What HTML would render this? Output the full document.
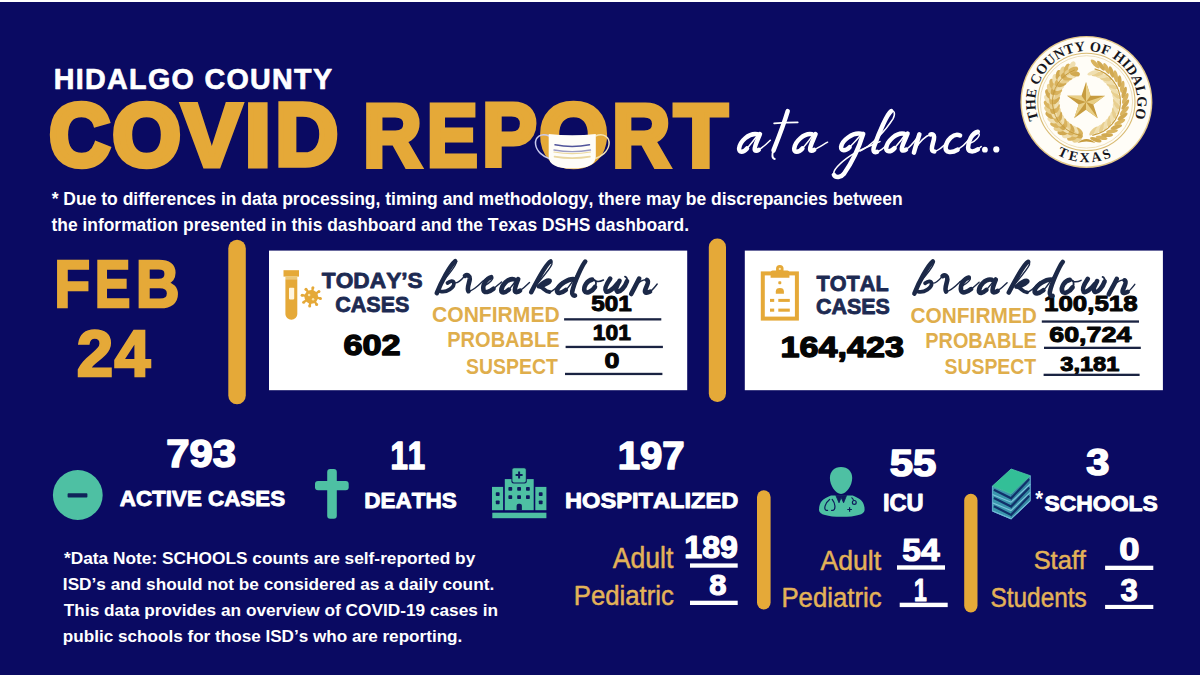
<!DOCTYPE html>
<html>
<head>
<meta charset="utf-8">
<title>Hidalgo County COVID Report</title>
<style>
html,body{margin:0;padding:0;}
body{width:1200px;height:675px;overflow:hidden;background:#0a0a62;font-family:"Liberation Sans",sans-serif;}
svg{display:block;}
text{font-kerning:none;white-space:pre;}
</style>
</head>
<body>
<svg width="1200" height="675" viewBox="0 0 1200 675">
<rect x="0" y="0" width="1200" height="2" fill="#ffffff"/>
<text transform="translate(53.71,88.95) scale(0.9439,1)" font-family='"Liberation Sans",sans-serif' font-weight="bold" font-style="normal" font-size="30.38" fill="#ffffff" stroke="#ffffff" stroke-width="0.7" stroke-linejoin="round" letter-spacing="1.4">HIDALGO COUNTY</text>
<text transform="translate(49.48,164.75) scale(0.9528,1)" font-family='"Liberation Sans",sans-serif' font-weight="bold" font-style="normal" font-size="87.50" fill="#e5a938" stroke="#e5a938" stroke-width="6.5" stroke-linejoin="miter" stroke-miterlimit="2.5">C</text>
<text transform="translate(112.86,164.75) scale(0.9956,1)" font-family='"Liberation Sans",sans-serif' font-weight="bold" font-style="normal" font-size="87.50" fill="#e5a938" stroke="#e5a938" stroke-width="6.5" stroke-linejoin="miter" stroke-miterlimit="2.5">O</text>
<text transform="translate(181.69,165.50) scale(1.0017,1)" font-family='"Liberation Sans",sans-serif' font-weight="bold" font-style="normal" font-size="89.68" fill="#e5a938" stroke="#e5a938" stroke-width="5" stroke-linejoin="miter" stroke-miterlimit="2.5">V</text>
<text transform="translate(244.19,165.50) scale(1.0883,1)" font-family='"Liberation Sans",sans-serif' font-weight="bold" font-style="normal" font-size="89.68" fill="#e5a938" stroke="#e5a938" stroke-width="5" stroke-linejoin="miter" stroke-miterlimit="2.5">I</text>
<text transform="translate(275.16,165.25) scale(0.9808,1)" font-family='"Liberation Sans",sans-serif' font-weight="bold" font-style="normal" font-size="88.96" fill="#e5a938" stroke="#e5a938" stroke-width="5.5" stroke-linejoin="miter" stroke-miterlimit="2.5">D</text>
<text transform="translate(362.92,165.50) scale(0.9075,1)" font-family='"Liberation Sans",sans-serif' font-weight="bold" font-style="normal" font-size="89.68" fill="#e5a938" stroke="#e5a938" stroke-width="5" stroke-linejoin="miter" stroke-miterlimit="2.5">R</text>
<text transform="translate(426.71,165.50) scale(0.8533,1)" font-family='"Liberation Sans",sans-serif' font-weight="bold" font-style="normal" font-size="89.68" fill="#e5a938" stroke="#e5a938" stroke-width="5" stroke-linejoin="miter" stroke-miterlimit="2.5">E</text>
<text transform="translate(481.89,165.50) scale(0.9183,1)" font-family='"Liberation Sans",sans-serif' font-weight="bold" font-style="normal" font-size="89.68" fill="#e5a938" stroke="#e5a938" stroke-width="5" stroke-linejoin="miter" stroke-miterlimit="2.5">P</text>
<text transform="translate(539.76,164.75) scale(0.9956,1)" font-family='"Liberation Sans",sans-serif' font-weight="bold" font-style="normal" font-size="87.50" fill="#e5a938" stroke="#e5a938" stroke-width="6.5" stroke-linejoin="miter" stroke-miterlimit="2.5">O</text>
<text transform="translate(612.04,165.50) scale(0.9027,1)" font-family='"Liberation Sans",sans-serif' font-weight="bold" font-style="normal" font-size="89.68" fill="#e5a938" stroke="#e5a938" stroke-width="5" stroke-linejoin="miter" stroke-miterlimit="2.5">R</text>
<text transform="translate(673.96,165.50) scale(0.9808,1)" font-family='"Liberation Sans",sans-serif' font-weight="bold" font-style="normal" font-size="89.68" fill="#e5a938" stroke="#e5a938" stroke-width="5" stroke-linejoin="miter" stroke-miterlimit="2.5">T</text>
<text transform="translate(51.65,204.80) scale(0.9795,1)" font-family='"Liberation Sans",sans-serif' font-weight="bold" font-style="normal" font-size="17.88" fill="#ffffff">* Due to differences in data processing, timing and methodology, there may be discrepancies between</text>
<text transform="translate(51.49,230.80) scale(0.9746,1)" font-family='"Liberation Sans",sans-serif' font-weight="bold" font-style="normal" font-size="17.88" fill="#ffffff">the information presented in this dashboard and the Texas DSHS dashboard.</text>
<text transform="translate(54.29,307.25) scale(0.8913,1)" font-family='"Liberation Sans",sans-serif' font-weight="bold" font-style="normal" font-size="65.84" fill="#e5a938" stroke="#e5a938" stroke-width="2.5" stroke-linejoin="miter" stroke-miterlimit="2.5">F</text>
<text transform="translate(94.84,307.25) scale(0.8113,1)" font-family='"Liberation Sans",sans-serif' font-weight="bold" font-style="normal" font-size="65.84" fill="#e5a938" stroke="#e5a938" stroke-width="2.5" stroke-linejoin="miter" stroke-miterlimit="2.5">E</text>
<text transform="translate(135.79,307.25) scale(0.9213,1)" font-family='"Liberation Sans",sans-serif' font-weight="bold" font-style="normal" font-size="65.84" fill="#e5a938" stroke="#e5a938" stroke-width="2.5" stroke-linejoin="miter" stroke-miterlimit="2.5">B</text>
<text transform="translate(76.79,375.55) scale(1.0023,1)" font-family='"Liberation Sans",sans-serif' font-weight="bold" font-style="normal" font-size="65.26" fill="#e5a938" stroke="#e5a938" stroke-width="2.5" stroke-linejoin="miter" stroke-miterlimit="2.5">2</text>
<text transform="translate(114.56,375.55) scale(0.9878,1)" font-family='"Liberation Sans",sans-serif' font-weight="bold" font-style="normal" font-size="65.26" fill="#e5a938" stroke="#e5a938" stroke-width="2.5" stroke-linejoin="miter" stroke-miterlimit="2.5">4</text>
<rect x="228.3" y="239.8" width="17.5" height="164.4" fill="#e5a938" rx="8.7"/>
<rect x="269" y="250.6" width="418.2" height="139.6" fill="#ffffff"/>
<rect x="708.8" y="238.5" width="17.2" height="163.5" fill="#e5a938" rx="8.5"/>
<rect x="744.8" y="250.6" width="418.1" height="139.6" fill="#ffffff"/>
<text transform="translate(321.85,287.90) scale(1.0144,1)" font-family='"Liberation Sans",sans-serif' font-weight="bold" font-style="normal" font-size="22.38" fill="#1d2a52" stroke="#1d2a52" stroke-width="0.8" stroke-linejoin="round">TODAY’S</text>
<text transform="translate(335.21,311.70) scale(0.9754,1)" font-family='"Liberation Sans",sans-serif' font-weight="bold" font-style="normal" font-size="22.09" fill="#1d2a52" stroke="#1d2a52" stroke-width="0.8" stroke-linejoin="round">CASES</text>
<text transform="translate(343.45,355.00) scale(1.1564,1)" font-family='"Liberation Sans",sans-serif' font-weight="bold" font-style="normal" font-size="29.65" fill="#050505" stroke="#050505" stroke-width="1.4" stroke-linejoin="round">602</text>
<text transform="translate(432.03,321.50) scale(0.9942,1)" font-family='"Liberation Sans",sans-serif' font-weight="bold" font-style="normal" font-size="21.22" fill="#dfae4c">CONFIRMED</text>
<text transform="translate(447.26,347.40) scale(0.9128,1)" font-family='"Liberation Sans",sans-serif' font-weight="bold" font-style="normal" font-size="21.95" fill="#dfae4c">PROBABLE</text>
<text transform="translate(466.04,373.70) scale(0.8872,1)" font-family='"Liberation Sans",sans-serif' font-weight="bold" font-style="normal" font-size="21.95" fill="#dfae4c">SUSPECT</text>
<text transform="translate(591.32,310.90) scale(1.1254,1)" font-family='"Liberation Sans",sans-serif' font-weight="bold" font-style="normal" font-size="21.51" fill="#050505" stroke="#050505" stroke-width="1.0" stroke-linejoin="round">501</text>
<text transform="translate(592.87,340.10) scale(1.0216,1)" font-family='"Liberation Sans",sans-serif' font-weight="bold" font-style="normal" font-size="22.38" fill="#050505" stroke="#050505" stroke-width="1.0" stroke-linejoin="round">101</text>
<text transform="translate(604.55,368.30) scale(1.2166,1)" font-family='"Liberation Sans",sans-serif' font-weight="bold" font-style="normal" font-size="22.09" fill="#050505" stroke="#050505" stroke-width="1.0" stroke-linejoin="round">0</text>
<rect x="564.1" y="318.2" width="97.2" height="2.3" fill="#1a2342"/>
<rect x="565.6" y="345.8" width="97.3" height="2.3" fill="#1a2342"/>
<rect x="565" y="372.8" width="97.4" height="2.3" fill="#1a2342"/>
<text transform="translate(816.55,290.50) scale(0.9733,1)" font-family='"Liberation Sans",sans-serif' font-weight="bold" font-style="normal" font-size="22.24" fill="#1d2a52" stroke="#1d2a52" stroke-width="0.8" stroke-linejoin="round">TOTAL</text>
<text transform="translate(815.90,313.90) scale(0.9528,1)" font-family='"Liberation Sans",sans-serif' font-weight="bold" font-style="normal" font-size="22.53" fill="#1d2a52" stroke="#1d2a52" stroke-width="0.8" stroke-linejoin="round">CASES</text>
<text transform="translate(780.54,357.20) scale(1.1346,1)" font-family='"Liberation Sans",sans-serif' font-weight="bold" font-style="normal" font-size="30.09" fill="#050505" stroke="#050505" stroke-width="1.4" stroke-linejoin="round">164,423</text>
<text transform="translate(910.44,322.60) scale(0.9585,1)" font-family='"Liberation Sans",sans-serif' font-weight="bold" font-style="normal" font-size="21.80" fill="#dfae4c">CONFIRMED</text>
<text transform="translate(925.27,348.10) scale(0.9184,1)" font-family='"Liberation Sans",sans-serif' font-weight="bold" font-style="normal" font-size="21.66" fill="#dfae4c">PROBABLE</text>
<text transform="translate(944.44,374.40) scale(0.8862,1)" font-family='"Liberation Sans",sans-serif' font-weight="bold" font-style="normal" font-size="21.95" fill="#dfae4c">SUSPECT</text>
<text transform="translate(1044.05,310.90) scale(1.1564,1)" font-family='"Liberation Sans",sans-serif' font-weight="bold" font-style="normal" font-size="22.38" fill="#050505" stroke="#050505" stroke-width="1.0" stroke-linejoin="round">100,518</text>
<text transform="translate(1049.25,341.70) scale(1.2558,1)" font-family='"Liberation Sans",sans-serif' font-weight="bold" font-style="normal" font-size="21.37" fill="#050505" stroke="#050505" stroke-width="1.0" stroke-linejoin="round">60,724</text>
<text transform="translate(1060.23,371.00) scale(1.1552,1)" font-family='"Liberation Sans",sans-serif' font-weight="bold" font-style="normal" font-size="20.49" fill="#050505" stroke="#050505" stroke-width="1.0" stroke-linejoin="round">3,181</text>
<rect x="1041.8" y="320.4" width="97.2" height="2.3" fill="#1a2342"/>
<rect x="1044" y="346.7" width="96.8" height="2.3" fill="#1a2342"/>
<rect x="1043.6" y="373.7" width="96" height="2.3" fill="#1a2342"/>
<text transform="translate(166.15,466.50) scale(1.0584,1)" font-family='"Liberation Sans",sans-serif' font-weight="bold" font-style="normal" font-size="39.54" fill="#ffffff" stroke="#ffffff" stroke-width="1.6" stroke-linejoin="round">793</text>
<circle cx="77.8" cy="495" r="24.9" fill="#4ec0a3"/>
<rect x="67.6" y="493.3" width="19.8" height="4.3" fill="#10235a" rx="0.8"/>
<text transform="translate(119.80,506.05) scale(1.0066,1)" font-family='"Liberation Sans",sans-serif' font-weight="bold" font-style="normal" font-size="22.24" fill="#ffffff" stroke="#ffffff" stroke-width="0.9" stroke-linejoin="round">ACTIVE CASES</text>
<rect x="327.2" y="469" width="9.6" height="49.8" fill="#4ec0a3" rx="3"/>
<rect x="315" y="480.9" width="33.7" height="9.4" fill="#4ec0a3" rx="3"/>
<text transform="translate(390.47,469.20) scale(0.7884,1)" font-family='"Liberation Sans",sans-serif' font-weight="bold" font-style="normal" font-size="39.54" fill="#ffffff" stroke="#ffffff" stroke-width="1.6" stroke-linejoin="round">11</text>
<text transform="translate(364.24,508.25) scale(0.9870,1)" font-family='"Liberation Sans",sans-serif' font-weight="bold" font-style="normal" font-size="22.82" fill="#ffffff" stroke="#ffffff" stroke-width="0.9" stroke-linejoin="round">DEATHS</text>
<text transform="translate(617.72,469.20) scale(1.0530,1)" font-family='"Liberation Sans",sans-serif' font-weight="bold" font-style="normal" font-size="38.08" fill="#ffffff" stroke="#ffffff" stroke-width="1.6" stroke-linejoin="round">197</text>
<text transform="translate(564.99,508.45) scale(1.0571,1)" font-family='"Liberation Sans",sans-serif' font-weight="bold" font-style="normal" font-size="22.38" fill="#ffffff" stroke="#ffffff" stroke-width="0.9" stroke-linejoin="round">HOSPITALIZED</text>
<text transform="translate(612.78,567.95) scale(0.9282,1)" font-family='"Liberation Sans",sans-serif' font-weight="normal" font-style="normal" font-size="28.63" fill="#e3b258" stroke="#e3b258" stroke-width="0.5" stroke-linejoin="round">Adult</text>
<text transform="translate(573.73,604.95) scale(0.9467,1)" font-family='"Liberation Sans",sans-serif' font-weight="normal" font-style="normal" font-size="27.18" fill="#e3b258" stroke="#e3b258" stroke-width="0.5" stroke-linejoin="round">Pediatric</text>
<text transform="translate(684.30,557.60) scale(1.0323,1)" font-family='"Liberation Sans",sans-serif' font-weight="bold" font-style="normal" font-size="31.11" fill="#ffffff" stroke="#ffffff" stroke-width="1.2" stroke-linejoin="round">189</text>
<text transform="translate(709.33,595.40) scale(1.0233,1)" font-family='"Liberation Sans",sans-serif' font-weight="bold" font-style="normal" font-size="30.23" fill="#ffffff" stroke="#ffffff" stroke-width="1.2" stroke-linejoin="round">8</text>
<rect x="690" y="563.4" width="47.7" height="4.3" fill="#ffffff"/>
<rect x="690" y="600.7" width="47.7" height="4.3" fill="#ffffff"/>
<rect x="757" y="490.2" width="13.6" height="119.2" fill="#e5a938" rx="6.8"/>
<text transform="translate(889.70,476.10) scale(1.1081,1)" font-family='"Liberation Sans",sans-serif' font-weight="bold" font-style="normal" font-size="37.79" fill="#ffffff" stroke="#ffffff" stroke-width="1.6" stroke-linejoin="round">55</text>
<text transform="translate(882.98,511.15) scale(1.0164,1)" font-family='"Liberation Sans",sans-serif' font-weight="bold" font-style="normal" font-size="23.26" fill="#ffffff" stroke="#ffffff" stroke-width="0.9" stroke-linejoin="round">ICU</text>
<text transform="translate(820.59,570.05) scale(0.9723,1)" font-family='"Liberation Sans",sans-serif' font-weight="normal" font-style="normal" font-size="27.33" fill="#e3b258" stroke="#e3b258" stroke-width="0.5" stroke-linejoin="round">Adult</text>
<text transform="translate(781.42,607.05) scale(0.9427,1)" font-family='"Liberation Sans",sans-serif' font-weight="normal" font-style="normal" font-size="27.33" fill="#e3b258" stroke="#e3b258" stroke-width="0.5" stroke-linejoin="round">Pediatric</text>
<text transform="translate(902.32,560.90) scale(1.0786,1)" font-family='"Liberation Sans",sans-serif' font-weight="bold" font-style="normal" font-size="31.11" fill="#ffffff" stroke="#ffffff" stroke-width="1.2" stroke-linejoin="round">54</text>
<text transform="translate(914.00,600.50) scale(0.7337,1)" font-family='"Liberation Sans",sans-serif' font-weight="bold" font-style="normal" font-size="31.11" fill="#ffffff" stroke="#ffffff" stroke-width="1.2" stroke-linejoin="round">1</text>
<rect x="897" y="565.3" width="48" height="4.4" fill="#ffffff"/>
<rect x="899.7" y="602.7" width="48" height="4.4" fill="#ffffff"/>
<rect x="964.2" y="493.8" width="13.3" height="118.6" fill="#e5a938" rx="6.6"/>
<text transform="translate(1086.14,475.20) scale(1.1156,1)" font-family='"Liberation Sans",sans-serif' font-weight="bold" font-style="normal" font-size="37.36" fill="#ffffff" stroke="#ffffff" stroke-width="1.6" stroke-linejoin="round">3</text>
<text transform="translate(1044.50,510.55) scale(1.0239,1)" font-family='"Liberation Sans",sans-serif' font-weight="bold" font-style="normal" font-size="22.38" fill="#ffffff" stroke="#ffffff" stroke-width="0.9" stroke-linejoin="round">SCHOOLS</text>
<text transform="translate(1035.24,506.00) scale(0.9399,1)" font-family='"Liberation Sans",sans-serif' font-weight="bold" font-style="normal" font-size="21.26" fill="#ffffff">*</text>
<text transform="translate(1033.69,569.45) scale(0.9601,1)" font-family='"Liberation Sans",sans-serif' font-weight="normal" font-style="normal" font-size="26.45" fill="#e3b258" stroke="#e3b258" stroke-width="0.5" stroke-linejoin="round">Staff</text>
<text transform="translate(990.41,607.05) scale(0.8941,1)" font-family='"Liberation Sans",sans-serif' font-weight="normal" font-style="normal" font-size="27.33" fill="#e3b258" stroke="#e3b258" stroke-width="0.5" stroke-linejoin="round">Students</text>
<text transform="translate(1119.24,559.70) scale(1.1397,1)" font-family='"Liberation Sans",sans-serif' font-weight="bold" font-style="normal" font-size="31.98" fill="#ffffff" stroke="#ffffff" stroke-width="1.2" stroke-linejoin="round">0</text>
<text transform="translate(1120.58,600.70) scale(0.9835,1)" font-family='"Liberation Sans",sans-serif' font-weight="bold" font-style="normal" font-size="31.54" fill="#ffffff" stroke="#ffffff" stroke-width="1.2" stroke-linejoin="round">3</text>
<rect x="1105.1" y="565.7" width="48.2" height="4.3" fill="#ffffff"/>
<rect x="1105.1" y="604.9" width="48.2" height="4.1" fill="#ffffff"/>
<text transform="translate(63.95,564.30) scale(1.0538,1)" font-family='"Liberation Sans",sans-serif' font-weight="bold" font-style="normal" font-size="16.42" fill="#ffffff">*Data Note: SCHOOLS counts are self-reported by</text>
<text transform="translate(62.85,590.00) scale(1.0492,1)" font-family='"Liberation Sans",sans-serif' font-weight="bold" font-style="normal" font-size="16.42" fill="#ffffff">ISD’s and should not be considered as a daily count.</text>
<text transform="translate(63.81,616.00) scale(1.0517,1)" font-family='"Liberation Sans",sans-serif' font-weight="bold" font-style="normal" font-size="16.42" fill="#ffffff">This data provides an overview of COVID-19 cases in</text>
<text transform="translate(62.87,641.70) scale(1.0433,1)" font-family='"Liberation Sans",sans-serif' font-weight="bold" font-style="normal" font-size="16.42" fill="#ffffff">public schools for those ISD’s who are reporting.</text>
<rect x="283.5" y="270.2" width="15.5" height="6.4" fill="#e5a938"/>
<rect x="285.4" y="276.6" width="11.9" height="2.6" fill="#ecc878"/>
<path d="M285.4 279.2 H297.3 V313.9 A5.95 5.95 0 0 1 285.4 313.9 Z" fill="#e5a938"/>
<rect x="289" y="287.8" width="5.2" height="11.6" fill="#fff6e0" rx="0.8"/>
<g fill="#e5a938" stroke="#e5a938">
<line x1="316.22" y1="297.67" x2="320.46" y2="298.41" stroke-width="2.3"/>
<circle cx="320.46" cy="298.41" r="1.5" stroke="none"/>
<line x1="314.17" y1="300.90" x2="316.63" y2="304.42" stroke-width="2.3"/>
<circle cx="316.63" cy="304.42" r="1.5" stroke="none"/>
<line x1="310.43" y1="301.72" x2="309.69" y2="305.96" stroke-width="2.3"/>
<circle cx="309.69" cy="305.96" r="1.5" stroke="none"/>
<line x1="307.20" y1="299.67" x2="303.68" y2="302.13" stroke-width="2.3"/>
<circle cx="303.68" cy="302.13" r="1.5" stroke="none"/>
<line x1="306.38" y1="295.93" x2="302.14" y2="295.19" stroke-width="2.3"/>
<circle cx="302.14" cy="295.19" r="1.5" stroke="none"/>
<line x1="308.43" y1="292.70" x2="305.97" y2="289.18" stroke-width="2.3"/>
<circle cx="305.97" cy="289.18" r="1.5" stroke="none"/>
<line x1="312.17" y1="291.88" x2="312.91" y2="287.64" stroke-width="2.3"/>
<circle cx="312.91" cy="287.64" r="1.5" stroke="none"/>
<line x1="315.40" y1="293.93" x2="318.92" y2="291.47" stroke-width="2.3"/>
<circle cx="318.92" cy="291.47" r="1.5" stroke="none"/>
<circle cx="311.3" cy="296.8" r="6.9" stroke="none"/>
</g>
<circle cx="309.1" cy="295.0" r="1.3" fill="#fbe3a6"/>
<circle cx="313.1" cy="299.2" r="1.2" fill="#fbe3a6"/>
<rect x="762.8" y="273.4" width="34.1" height="45.2" fill="none" stroke="#e5a938" stroke-width="4"/>
<path d="M770.6 277.8 V272.4 Q770.6 270.4 772.6 270.4 H776.2 A3.9 3.9 0 0 1 783.4 270.4 H787.4 Q789.4 270.4 789.4 272.4 V277.8 Z" fill="#e5a938"/>
<circle cx="779.8" cy="268.9" r="3.8" fill="#e5a938"/>
<circle cx="779.8" cy="268.9" r="1.1" fill="#fbe9bd"/>
<rect x="778.3" y="281.2" width="3" height="3" rx="0.9" fill="#e5a938"/>
<path d="M775.8 293.7 V291.5 A4.05 3.4 0 0 1 783.9 291.5 V293.7 Z" fill="#e5a938"/>
<rect x="770" y="298.9" width="4.2" height="3" fill="#e5a938"/>
<rect x="778.3" y="298.9" width="11.5" height="3" fill="#e5a938"/>
<rect x="770" y="308.6" width="4.2" height="3.1" fill="#e5a938"/>
<rect x="778.3" y="308.6" width="11.5" height="3.1" fill="#e5a938"/>
<rect x="504.8" y="479.1" width="28.9" height="31.1" fill="#4ec0a3"/>
<rect x="492" y="486.9" width="11.1" height="23.3" fill="#4ec0a3"/>
<rect x="535.3" y="486.9" width="11.1" height="23.3" fill="#4ec0a3"/>
<rect x="492.3" y="512.7" width="54.1" height="5.5" fill="#4ec0a3"/>
<rect x="511.4" y="467.4" width="15.4" height="16" rx="2.2" fill="#0e1a5c"/>
<rect x="512.4" y="468.2" width="13.4" height="14.2" rx="1.6" fill="#4ec0a3"/>
<rect x="515.6" y="474.0" width="7.0" height="2.0" fill="#0e1a5c"/>
<rect x="518.1" y="471.5" width="2.0" height="7.0" fill="#0e1a5c"/>
<rect x="508.40000000000003" y="487.0" width="3.8" height="3.8" fill="#0e1a5c" rx="0.8"/>
<rect x="508.40000000000003" y="495.20000000000005" width="3.8" height="3.8" fill="#0e1a5c" rx="0.8"/>
<rect x="517.2" y="487.0" width="3.8" height="3.8" fill="#0e1a5c" rx="0.8"/>
<rect x="517.2" y="495.20000000000005" width="3.8" height="3.8" fill="#0e1a5c" rx="0.8"/>
<rect x="526.0" y="487.0" width="3.8" height="3.8" fill="#0e1a5c" rx="0.8"/>
<rect x="526.0" y="495.20000000000005" width="3.8" height="3.8" fill="#0e1a5c" rx="0.8"/>
<rect x="495.8" y="492.3" width="3.8" height="3.8" fill="#0e1a5c" rx="0.8"/>
<rect x="495.8" y="500.5" width="3.8" height="3.8" fill="#0e1a5c" rx="0.8"/>
<rect x="538.8000000000001" y="492.3" width="3.8" height="3.8" fill="#0e1a5c" rx="0.8"/>
<rect x="538.8000000000001" y="500.5" width="3.8" height="3.8" fill="#0e1a5c" rx="0.8"/>
<path d="M516.6 510.2 V505.8 A2 2 0 0 1 518.6 503.8 H519.9 A2 2 0 0 1 521.9 505.8 V510.2 Z" fill="#0e1a5c"/>
<path d="M819 510 C819 502 823 498.6 831 495.6 H852.7 C860.5 498.6 864.6 502 864.6 510 C864.6 514.6 856 516.8 841.8 516.8 C827.5 516.8 819 514.6 819 510 Z" fill="#4ec0a3"/>
<path d="M841 466.9 C847.8 466.9 852.2 471.5 852.2 478 C852.2 485.5 846.5 493.9 841 493.9 C835.5 493.9 829.9 485.5 829.9 478 C829.9 471.5 834.2 466.9 841 466.9 Z" fill="#4ec0a3" stroke="#0a0a62" stroke-width="1.6" paint-order="stroke"/>
<path d="M835.8 495.4 L839 502.8 L841.2 497.6 L843.6 502.8 L846.6 495.4 Z" fill="#0e1a5c" stroke="#0e1a5c" stroke-width="0.8" stroke-linejoin="round"/>
<path d="M829.6 499.4 C824.8 503 823.6 509.4 826.2 510.4 H827.6 M832.2 499.4 C835.6 503.5 835.8 509.4 833 510.4 H831.6" fill="none" stroke="#0e1a5c" stroke-width="1.2" stroke-linecap="round"/>
<circle cx="854.3" cy="502.4" r="1.9" fill="none" stroke="#0e1a5c" stroke-width="1.2"/>
<path d="M851.5 497.5 Q853 498.5 853.6 500.5" fill="none" stroke="#0e1a5c" stroke-width="1.1"/>
<path d="M849.6 507.2 V511.8 M847.3 509.5 H851.9" stroke="#0e1a5c" stroke-width="1.2" fill="none"/>
<polygon points="992.4,486.1 1011.1,493.9 1011.1,518.8 992.4,511.0" fill="#3b97ad"/>
<polygon points="1011.1,493.9 1030.3,475.7 1030.3,500.6 1011.1,518.8" fill="#3589a3"/>
<polyline points="993.9,489.7 1011.1,498.3 1029.3,479.1" fill="none" stroke="#10306a" stroke-width="2.2"/>
<polyline points="992.4,494.4 1011.1,502.2 1030.3,484.0" fill="none" stroke="#7fc6de" stroke-width="1.1"/>
<polyline points="993.9,498.0 1011.1,506.6 1029.3,487.4" fill="none" stroke="#10306a" stroke-width="2.2"/>
<polyline points="992.4,502.7 1011.1,510.5 1030.3,492.3" fill="none" stroke="#7fc6de" stroke-width="1.1"/>
<polyline points="993.9,506.3 1011.1,514.9 1029.3,495.7" fill="none" stroke="#10306a" stroke-width="2.2"/>
<polyline points="992.4,511.0 1011.1,518.8 1030.3,500.6" fill="none" stroke="#7fc6de" stroke-width="1.1"/>
<polygon points="992.4,486.1 1011.1,493.9 1030.3,475.7 1011.1,469.0" fill="#33bf97" stroke="#52c9a8" stroke-width="0.8" stroke-linejoin="round"/>
<polyline points="992.4,486.1 992.4,511.0 1011.1,518.8 1030.3,500.6 1030.3,475.7" fill="none" stroke="#6bb8d6" stroke-width="0.9" stroke-linejoin="round"/>
<path d="M549.2 136 C541 132.5 534.6 137 535.6 144.5 C536.6 151.5 543 156.5 549.2 158.5" fill="none" stroke="#c9caee" stroke-width="1.5"/>
<path d="M595.4 136 C603.5 132.5 610 137 609 144.5 C608 151.5 601.5 156.5 595.4 158.5" fill="none" stroke="#f3e2b4" stroke-width="1.5"/>
<path d="M548.7 134 Q572.2 136.6 595.8 134 L595.8 156.5 Q595.8 168.6 572.2 168.6 Q548.7 168.6 548.7 156.5 Z" fill="#fefdf8"/>
<path d="M555 144.8 Q572 148.2 589.5 144.8" fill="none" stroke="#50549a" stroke-width="1.5" stroke-linecap="round"/>
<path d="M554 150 Q572 153.2 590.5 150" fill="none" stroke="#9c9cc4" stroke-width="1.4" stroke-linecap="round"/>
<path d="M554 152 Q572 155.2 590.5 152" fill="none" stroke="#ecd9a0" stroke-width="1.2" stroke-linecap="round"/>
<path d="M554.5 156.6 Q572 159.6 590 156.6" fill="none" stroke="#ead7a0" stroke-width="1.6" stroke-linecap="round"/>
<circle cx="1086.4" cy="101.9" r="66" fill="#e4c98a"/>
<circle cx="1086.4" cy="101.9" r="64.6" fill="#fffdf7"/>
<circle cx="1086.4" cy="101.9" r="48.6" fill="none" stroke="#d9bb73" stroke-width="1.1"/>
<circle cx="1086.4" cy="101.9" r="46.2" fill="none" stroke="#e7d3a0" stroke-width="0.7"/>
<path id="sealTop" d="M1038.57 119.31 A50.9 50.9 0 1 1 1134.81 117.63" fill="none"/>
<text font-family='"Liberation Serif",serif' font-weight="bold" font-size="14.2" fill="#16161c"><textPath href="#sealTop" textLength="193.7" lengthAdjust="spacing">THE COUNTY OF HIDALGO</textPath></text>
<path id="sealBot" d="M1057.12 154.73 A60.4 60.4 0 0 0 1111.45 156.86" fill="none"/>
<text font-family='"Liberation Serif",serif' font-weight="bold" font-size="13.8" fill="#16161c"><textPath href="#sealBot" textLength="56.4" lengthAdjust="spacing">TEXAS</textPath></text>
<polygon points="1086.0,82.0 1090.5,95.8 1105.0,95.8 1093.3,104.4 1097.8,118.2 1086.0,109.7 1074.2,118.2 1078.7,104.4 1067.0,95.8 1081.5,95.8" fill="#c79c3f"/>
<polygon points="1086.0,82.0 1090.5,95.8 1086.0,102.0" fill="#e9cf86"/>
<polygon points="1105.0,95.8 1093.3,104.4 1086.0,102.0" fill="#e9cf86"/>
<polygon points="1097.8,118.2 1086.0,109.7 1086.0,102.0" fill="#e9cf86"/>
<polygon points="1074.2,118.2 1078.7,104.4 1086.0,102.0" fill="#e9cf86"/>
<polygon points="1067.0,95.8 1081.5,95.8 1086.0,102.0" fill="#e9cf86"/>
<ellipse cx="1079.0" cy="131.5" rx="5.0" ry="2.7" transform="rotate(229 1079.0 131.5)" fill="#d9b35e"/>
<ellipse cx="1077.0" cy="139.5" rx="5.0" ry="2.7" transform="rotate(159 1077.0 139.5)" fill="#e8cf8f"/>
<ellipse cx="1078.0" cy="135.5" rx="5.0" ry="2.7" transform="rotate(194 1078.0 135.5)" fill="#d1a951"/>
<ellipse cx="1075.0" cy="130.2" rx="5.0" ry="2.7" transform="rotate(237 1075.0 130.2)" fill="#f0dfb0"/>
<ellipse cx="1071.9" cy="137.9" rx="5.0" ry="2.7" transform="rotate(167 1071.9 137.9)" fill="#d9b35e"/>
<ellipse cx="1073.4" cy="134.0" rx="5.0" ry="2.7" transform="rotate(202 1073.4 134.0)" fill="#e8cf8f"/>
<ellipse cx="1071.2" cy="128.3" rx="5.0" ry="2.7" transform="rotate(245 1071.2 128.3)" fill="#d1a951"/>
<ellipse cx="1067.0" cy="135.5" rx="5.0" ry="2.7" transform="rotate(175 1067.0 135.5)" fill="#f0dfb0"/>
<ellipse cx="1069.1" cy="131.9" rx="5.0" ry="2.7" transform="rotate(210 1069.1 131.9)" fill="#d9b35e"/>
<ellipse cx="1067.6" cy="125.9" rx="5.0" ry="2.7" transform="rotate(253 1067.6 125.9)" fill="#e8cf8f"/>
<ellipse cx="1062.5" cy="132.5" rx="5.0" ry="2.7" transform="rotate(183 1062.5 132.5)" fill="#d1a951"/>
<ellipse cx="1065.1" cy="129.2" rx="5.0" ry="2.7" transform="rotate(218 1065.1 129.2)" fill="#f0dfb0"/>
<ellipse cx="1064.5" cy="123.1" rx="5.0" ry="2.7" transform="rotate(261 1064.5 123.1)" fill="#d9b35e"/>
<ellipse cx="1058.5" cy="128.9" rx="5.0" ry="2.7" transform="rotate(191 1058.5 128.9)" fill="#e8cf8f"/>
<ellipse cx="1061.5" cy="125.9" rx="5.0" ry="2.7" transform="rotate(226 1061.5 125.9)" fill="#d1a951"/>
<ellipse cx="1061.7" cy="119.8" rx="5.0" ry="2.7" transform="rotate(269 1061.7 119.8)" fill="#f0dfb0"/>
<ellipse cx="1055.0" cy="124.7" rx="5.0" ry="2.7" transform="rotate(199 1055.0 124.7)" fill="#d9b35e"/>
<ellipse cx="1058.4" cy="122.2" rx="5.0" ry="2.7" transform="rotate(234 1058.4 122.2)" fill="#e8cf8f"/>
<ellipse cx="1059.5" cy="116.2" rx="5.0" ry="2.7" transform="rotate(277 1059.5 116.2)" fill="#d1a951"/>
<ellipse cx="1052.1" cy="120.1" rx="5.0" ry="2.7" transform="rotate(207 1052.1 120.1)" fill="#f0dfb0"/>
<ellipse cx="1055.9" cy="118.1" rx="5.0" ry="2.7" transform="rotate(242 1055.9 118.1)" fill="#d9b35e"/>
<ellipse cx="1057.7" cy="112.3" rx="5.0" ry="2.7" transform="rotate(285 1057.7 112.3)" fill="#e8cf8f"/>
<ellipse cx="1049.9" cy="115.2" rx="5.0" ry="2.7" transform="rotate(215 1049.9 115.2)" fill="#d1a951"/>
<ellipse cx="1053.9" cy="113.7" rx="5.0" ry="2.7" transform="rotate(250 1053.9 113.7)" fill="#f0dfb0"/>
<ellipse cx="1056.6" cy="108.2" rx="5.0" ry="2.7" transform="rotate(293 1056.6 108.2)" fill="#d9b35e"/>
<ellipse cx="1048.4" cy="110.0" rx="5.0" ry="2.7" transform="rotate(223 1048.4 110.0)" fill="#e8cf8f"/>
<ellipse cx="1052.6" cy="109.1" rx="5.0" ry="2.7" transform="rotate(258 1052.6 109.1)" fill="#d1a951"/>
<ellipse cx="1056.0" cy="104.0" rx="5.0" ry="2.7" transform="rotate(301 1056.0 104.0)" fill="#f0dfb0"/>
<ellipse cx="1047.7" cy="104.6" rx="5.0" ry="2.7" transform="rotate(231 1047.7 104.6)" fill="#d9b35e"/>
<ellipse cx="1051.9" cy="104.3" rx="5.0" ry="2.7" transform="rotate(266 1051.9 104.3)" fill="#e8cf8f"/>
<ellipse cx="1056.0" cy="99.8" rx="5.0" ry="2.7" transform="rotate(309 1056.0 99.8)" fill="#d1a951"/>
<ellipse cx="1047.7" cy="99.2" rx="5.0" ry="2.7" transform="rotate(239 1047.7 99.2)" fill="#f0dfb0"/>
<ellipse cx="1051.9" cy="99.5" rx="5.0" ry="2.7" transform="rotate(274 1051.9 99.5)" fill="#d9b35e"/>
<ellipse cx="1056.6" cy="95.6" rx="5.0" ry="2.7" transform="rotate(317 1056.6 95.6)" fill="#e8cf8f"/>
<ellipse cx="1048.4" cy="93.8" rx="5.0" ry="2.7" transform="rotate(247 1048.4 93.8)" fill="#d1a951"/>
<ellipse cx="1052.6" cy="94.7" rx="5.0" ry="2.7" transform="rotate(282 1052.6 94.7)" fill="#f0dfb0"/>
<ellipse cx="1057.7" cy="91.5" rx="5.0" ry="2.7" transform="rotate(325 1057.7 91.5)" fill="#d9b35e"/>
<ellipse cx="1049.9" cy="88.6" rx="5.0" ry="2.7" transform="rotate(255 1049.9 88.6)" fill="#e8cf8f"/>
<ellipse cx="1053.9" cy="90.1" rx="5.0" ry="2.7" transform="rotate(290 1053.9 90.1)" fill="#d1a951"/>
<ellipse cx="1059.5" cy="87.6" rx="5.0" ry="2.7" transform="rotate(333 1059.5 87.6)" fill="#f0dfb0"/>
<ellipse cx="1052.1" cy="83.7" rx="5.0" ry="2.7" transform="rotate(263 1052.1 83.7)" fill="#d9b35e"/>
<ellipse cx="1055.9" cy="85.7" rx="5.0" ry="2.7" transform="rotate(298 1055.9 85.7)" fill="#e8cf8f"/>
<ellipse cx="1061.7" cy="84.0" rx="5.0" ry="2.7" transform="rotate(341 1061.7 84.0)" fill="#d1a951"/>
<ellipse cx="1055.0" cy="79.1" rx="5.0" ry="2.7" transform="rotate(271 1055.0 79.1)" fill="#f0dfb0"/>
<ellipse cx="1058.4" cy="81.6" rx="5.0" ry="2.7" transform="rotate(306 1058.4 81.6)" fill="#d9b35e"/>
<ellipse cx="1064.5" cy="80.7" rx="5.0" ry="2.7" transform="rotate(349 1064.5 80.7)" fill="#e8cf8f"/>
<ellipse cx="1058.5" cy="74.9" rx="5.0" ry="2.7" transform="rotate(279 1058.5 74.9)" fill="#d1a951"/>
<ellipse cx="1061.5" cy="77.9" rx="5.0" ry="2.7" transform="rotate(314 1061.5 77.9)" fill="#f0dfb0"/>
<ellipse cx="1067.6" cy="77.9" rx="5.0" ry="2.7" transform="rotate(357 1067.6 77.9)" fill="#d9b35e"/>
<ellipse cx="1062.5" cy="71.3" rx="5.0" ry="2.7" transform="rotate(287 1062.5 71.3)" fill="#e8cf8f"/>
<ellipse cx="1065.1" cy="74.6" rx="5.0" ry="2.7" transform="rotate(322 1065.1 74.6)" fill="#d1a951"/>
<ellipse cx="1071.2" cy="75.5" rx="5.0" ry="2.7" transform="rotate(365 1071.2 75.5)" fill="#f0dfb0"/>
<ellipse cx="1067.0" cy="68.3" rx="5.0" ry="2.7" transform="rotate(295 1067.0 68.3)" fill="#d9b35e"/>
<ellipse cx="1069.1" cy="71.9" rx="5.0" ry="2.7" transform="rotate(330 1069.1 71.9)" fill="#e8cf8f"/>
<ellipse cx="1075.0" cy="73.6" rx="5.0" ry="2.7" transform="rotate(373 1075.0 73.6)" fill="#d1a951"/>
<ellipse cx="1071.9" cy="65.9" rx="5.0" ry="2.7" transform="rotate(303 1071.9 65.9)" fill="#f0dfb0"/>
<ellipse cx="1073.4" cy="69.8" rx="5.0" ry="2.7" transform="rotate(338 1073.4 69.8)" fill="#d9b35e"/>
<path d="M1080.5 135.4 A34 34 0 0 1 1074.8 70.0" fill="none" stroke="#c79c3f" stroke-width="1"/>
<ellipse cx="1093.7" cy="131.0" rx="6.0" ry="2.1" transform="rotate(-46 1093.7 131.0)" fill="#e8cf8f"/>
<ellipse cx="1095.8" cy="139.7" rx="6.0" ry="2.1" transform="rotate(18 1095.8 139.7)" fill="#d1a951"/>
<ellipse cx="1098.1" cy="129.5" rx="6.0" ry="2.1" transform="rotate(-55 1098.1 129.5)" fill="#f0dfb0"/>
<ellipse cx="1101.6" cy="137.8" rx="6.0" ry="2.1" transform="rotate(9 1101.6 137.8)" fill="#d9b35e"/>
<ellipse cx="1102.3" cy="127.3" rx="6.0" ry="2.1" transform="rotate(-64 1102.3 127.3)" fill="#e8cf8f"/>
<ellipse cx="1107.1" cy="135.0" rx="6.0" ry="2.1" transform="rotate(0 1107.1 135.0)" fill="#d1a951"/>
<ellipse cx="1106.1" cy="124.5" rx="6.0" ry="2.1" transform="rotate(-73 1106.1 124.5)" fill="#f0dfb0"/>
<ellipse cx="1112.0" cy="131.3" rx="6.0" ry="2.1" transform="rotate(-9 1112.0 131.3)" fill="#d9b35e"/>
<ellipse cx="1109.4" cy="121.2" rx="6.0" ry="2.1" transform="rotate(-82 1109.4 121.2)" fill="#e8cf8f"/>
<ellipse cx="1116.3" cy="127.0" rx="6.0" ry="2.1" transform="rotate(-18 1116.3 127.0)" fill="#d1a951"/>
<ellipse cx="1112.1" cy="117.4" rx="6.0" ry="2.1" transform="rotate(-91 1112.1 117.4)" fill="#f0dfb0"/>
<ellipse cx="1119.8" cy="122.0" rx="6.0" ry="2.1" transform="rotate(-27 1119.8 122.0)" fill="#d9b35e"/>
<ellipse cx="1114.2" cy="113.1" rx="6.0" ry="2.1" transform="rotate(-100 1114.2 113.1)" fill="#e8cf8f"/>
<ellipse cx="1122.6" cy="116.5" rx="6.0" ry="2.1" transform="rotate(-36 1122.6 116.5)" fill="#d1a951"/>
<ellipse cx="1115.6" cy="108.6" rx="6.0" ry="2.1" transform="rotate(-109 1115.6 108.6)" fill="#f0dfb0"/>
<ellipse cx="1124.4" cy="110.7" rx="6.0" ry="2.1" transform="rotate(-45 1124.4 110.7)" fill="#d9b35e"/>
<ellipse cx="1116.3" cy="104.0" rx="6.0" ry="2.1" transform="rotate(-118 1116.3 104.0)" fill="#e8cf8f"/>
<ellipse cx="1125.3" cy="104.6" rx="6.0" ry="2.1" transform="rotate(-54 1125.3 104.6)" fill="#d1a951"/>
<ellipse cx="1116.3" cy="99.3" rx="6.0" ry="2.1" transform="rotate(-127 1116.3 99.3)" fill="#f0dfb0"/>
<ellipse cx="1125.3" cy="98.5" rx="6.0" ry="2.1" transform="rotate(-63 1125.3 98.5)" fill="#d9b35e"/>
<ellipse cx="1115.5" cy="94.6" rx="6.0" ry="2.1" transform="rotate(-136 1115.5 94.6)" fill="#e8cf8f"/>
<ellipse cx="1124.2" cy="92.5" rx="6.0" ry="2.1" transform="rotate(-72 1124.2 92.5)" fill="#d1a951"/>
<ellipse cx="1114.0" cy="90.2" rx="6.0" ry="2.1" transform="rotate(-145 1114.0 90.2)" fill="#f0dfb0"/>
<ellipse cx="1122.3" cy="86.7" rx="6.0" ry="2.1" transform="rotate(-81 1122.3 86.7)" fill="#d9b35e"/>
<ellipse cx="1111.8" cy="86.0" rx="6.0" ry="2.1" transform="rotate(-154 1111.8 86.0)" fill="#e8cf8f"/>
<ellipse cx="1119.5" cy="81.2" rx="6.0" ry="2.1" transform="rotate(-90 1119.5 81.2)" fill="#d1a951"/>
<ellipse cx="1109.0" cy="82.2" rx="6.0" ry="2.1" transform="rotate(-163 1109.0 82.2)" fill="#f0dfb0"/>
<ellipse cx="1115.8" cy="76.3" rx="6.0" ry="2.1" transform="rotate(-99 1115.8 76.3)" fill="#d9b35e"/>
<ellipse cx="1105.7" cy="78.9" rx="6.0" ry="2.1" transform="rotate(-172 1105.7 78.9)" fill="#e8cf8f"/>
<ellipse cx="1111.5" cy="72.0" rx="6.0" ry="2.1" transform="rotate(-108 1111.5 72.0)" fill="#d1a951"/>
<ellipse cx="1101.9" cy="76.2" rx="6.0" ry="2.1" transform="rotate(-181 1101.9 76.2)" fill="#f0dfb0"/>
<ellipse cx="1106.5" cy="68.5" rx="6.0" ry="2.1" transform="rotate(-117 1106.5 68.5)" fill="#d9b35e"/>
<ellipse cx="1097.6" cy="74.1" rx="6.0" ry="2.1" transform="rotate(-190 1097.6 74.1)" fill="#e8cf8f"/>
<ellipse cx="1101.0" cy="65.7" rx="6.0" ry="2.1" transform="rotate(-126 1101.0 65.7)" fill="#d1a951"/>
<ellipse cx="1093.1" cy="72.7" rx="6.0" ry="2.1" transform="rotate(-199 1093.1 72.7)" fill="#f0dfb0"/>
<ellipse cx="1095.2" cy="63.9" rx="6.0" ry="2.1" transform="rotate(-135 1095.2 63.9)" fill="#d9b35e"/>
<path d="M1092.3 135.4 A34 34 0 0 0 1094.6 68.9" fill="none" stroke="#c79c3f" stroke-width="1.1"/>
<path d="M1077.4 142.9 Q1086.4 134.9 1095.4 142.9 Q1086.4 139.9 1077.4 142.9 Z" fill="#c79c3f"/>
<g role="img" aria-label="at a glance..">
<path d="M 757.5 134.3 C 748.9 132.5 739.8 141.6 739.1 148.5 C 738.8 152.9 743.2 152.9 747.0 148.5" fill="none" stroke="#ffffff" stroke-width="4.5" stroke-linecap="round" stroke-linejoin="round"/>
<path d="M 747.0 148.5 C 750.8 144.1 755.2 138.4 758.3 134.3" fill="none" stroke="#ffffff" stroke-width="1.5" stroke-linecap="round" stroke-linejoin="round"/>
<path d="M 760.0 134.0 C 757.5 140.3 754.2 146.6 754.7 149.6 C 755.1 151.4 757.1 150.9 758.7 149.9" fill="none" stroke="#ffffff" stroke-width="4.5" stroke-linecap="round" stroke-linejoin="round"/>
<path d="M 758.7 149.9 C 762.1 147.9 765.9 144.7 770.3 140.3" fill="none" stroke="#ffffff" stroke-width="1.5" stroke-linecap="round" stroke-linejoin="round"/>
<path d="M 787.7 111.1 C 785.4 118.9 778.5 137.8 773.5 150.4" fill="none" stroke="#ffffff" stroke-width="4.5" stroke-linecap="round" stroke-linejoin="round"/>
<path d="M 773.5 150.4 C 771.6 154.8 772.2 158.6 774.7 158.9" fill="none" stroke="#ffffff" stroke-width="2.0" stroke-linecap="round" stroke-linejoin="round"/>
<path d="M 774.1 123.4 C 781.6 122.7 790.5 122.4 797.8 122.4" fill="none" stroke="#ffffff" stroke-width="1.6" stroke-linecap="round" stroke-linejoin="round"/>
<path d="M 812.1 134.3 C 804.3 132.5 795.0 141.6 794.2 148.5 C 794.0 152.9 798.6 152.9 802.4 148.5" fill="none" stroke="#ffffff" stroke-width="4.5" stroke-linecap="round" stroke-linejoin="round"/>
<path d="M 802.4 148.5 C 806.2 144.1 810.6 138.4 813.4 134.3" fill="none" stroke="#ffffff" stroke-width="1.5" stroke-linecap="round" stroke-linejoin="round"/>
<path d="M 815.6 134.0 C 813.1 140.3 809.6 146.6 810.1 149.6 C 810.5 151.4 812.5 150.9 814.1 149.9" fill="none" stroke="#ffffff" stroke-width="4.5" stroke-linecap="round" stroke-linejoin="round"/>
<path d="M 814.1 149.9 C 818.2 147.9 823.2 144.7 827.6 142.2" fill="none" stroke="#ffffff" stroke-width="1.5" stroke-linecap="round" stroke-linejoin="round"/>
<path d="M 861.0 133.8 C 852.8 132.1 842.1 140.3 841.1 146.9 C 840.8 151.4 845.6 151.4 849.6 147.2" fill="none" stroke="#ffffff" stroke-width="4.5" stroke-linecap="round" stroke-linejoin="round"/>
<path d="M 849.6 147.2 C 854.1 142.8 858.5 137.8 861.6 134.0" fill="none" stroke="#ffffff" stroke-width="1.5" stroke-linecap="round" stroke-linejoin="round"/>
<path d="M 863.2 133.8 C 860.4 142.8 854.1 159.2 844.0 173.7 C 840.8 177.5 835.8 178.1 833.9 174.9" fill="none" stroke="#ffffff" stroke-width="4.5" stroke-linecap="round" stroke-linejoin="round"/>
<path d="M 833.9 174.9 C 832.0 171.2 839.6 163.0 850.9 155.4 C 859.7 149.7 868.5 146.6 880.0 141.6" fill="none" stroke="#ffffff" stroke-width="1.5" stroke-linecap="round" stroke-linejoin="round"/>
<path d="M 860.0 151.0 C 870.1 146.6 885.2 131.5 893.0 118.9 C 895.9 113.2 894.0 110.1 891.2 111.1" fill="none" stroke="#ffffff" stroke-width="1.5" stroke-linecap="round" stroke-linejoin="round"/>
<path d="M 891.2 111.1 C 887.1 113.9 878.9 132.7 874.1 146.6 C 872.6 151.0 873.9 152.9 877.0 151.9" fill="none" stroke="#ffffff" stroke-width="4.5" stroke-linecap="round" stroke-linejoin="round"/>
<path d="M 877.0 151.9 C 880.2 151.0 883.3 148.5 886.4 145.3" fill="none" stroke="#ffffff" stroke-width="1.5" stroke-linecap="round" stroke-linejoin="round"/>
<path d="M 904.3 133.8 C 896.5 132.0 887.2 141.1 886.2 147.9 C 885.9 152.4 890.6 152.4 894.6 148.1" fill="none" stroke="#ffffff" stroke-width="4.5" stroke-linecap="round" stroke-linejoin="round"/>
<path d="M 894.6 148.1 C 898.4 143.8 902.8 138.2 905.6 134.0" fill="none" stroke="#ffffff" stroke-width="1.5" stroke-linecap="round" stroke-linejoin="round"/>
<path d="M 907.6 133.5 C 905.1 140.1 901.3 146.3 901.8 149.4 C 902.2 151.1 904.3 150.6 906.0 149.6" fill="none" stroke="#ffffff" stroke-width="4.5" stroke-linecap="round" stroke-linejoin="round"/>
<path d="M 906.0 149.6 C 909.7 147.2 913.5 142.8 917.3 137.8" fill="none" stroke="#ffffff" stroke-width="1.5" stroke-linecap="round" stroke-linejoin="round"/>
<path d="M 919.4 134.3 C 917.3 140.9 915.2 147.9 913.9 152.6" fill="none" stroke="#ffffff" stroke-width="4.5" stroke-linecap="round" stroke-linejoin="round"/>
<path d="M 915.4 148.5 C 919.2 142.2 925.5 135.9 930.5 134.5" fill="none" stroke="#ffffff" stroke-width="1.5" stroke-linecap="round" stroke-linejoin="round"/>
<path d="M 930.5 134.5 C 935.6 133.4 934.3 139.0 932.8 143.5 C 931.5 147.9 931.2 151.4 934.3 151.4" fill="none" stroke="#ffffff" stroke-width="4.5" stroke-linecap="round" stroke-linejoin="round"/>
<path d="M 934.3 151.4 C 938.7 150.4 943.1 146.6 946.9 142.2" fill="none" stroke="#ffffff" stroke-width="1.5" stroke-linecap="round" stroke-linejoin="round"/>
<path d="M 960.1 135.5 C 953.8 132.1 946.3 140.6 945.6 147.6 C 945.4 152.9 951.9 153.1 957.6 149.7" fill="none" stroke="#ffffff" stroke-width="4.5" stroke-linecap="round" stroke-linejoin="round"/>
<path d="M 957.6 149.7 C 961.4 147.6 965.2 144.1 968.3 140.3" fill="none" stroke="#ffffff" stroke-width="1.5" stroke-linecap="round" stroke-linejoin="round"/>
<path d="M 968.3 140.3 C 972.7 135.9 977.8 132.7 979.0 133.8 C 980.3 135.3 975.9 141.6 969.6 143.5" fill="none" stroke="#ffffff" stroke-width="1.5" stroke-linecap="round" stroke-linejoin="round"/>
<path d="M 977.8 131.7 C 972.1 132.7 968.1 141.6 968.1 147.6 C 968.1 152.3 973.4 152.3 977.8 149.4" fill="none" stroke="#ffffff" stroke-width="4.5" stroke-linecap="round" stroke-linejoin="round"/>
<path d="M 977.8 149.4 C 979.0 148.5 980.3 147.6 981.2 146.6" fill="none" stroke="#ffffff" stroke-width="1.5" stroke-linecap="round" stroke-linejoin="round"/>
<circle cx="984.9" cy="149.7" r="2.9" fill="#fff"/>
<circle cx="996.3" cy="149.4" r="3.1" fill="#fff"/>
</g>
<g id="bdword" role="img" aria-label="breakdown">
<path d="M 455.2 261.2 C 450.0 265.5 441.2 282.0 436.8 293.2" fill="none" stroke="#1c2948" stroke-width="4.6" stroke-linecap="round" stroke-linejoin="round"/>
<path d="M 441.8 282.5 C 448.0 275.5 455.0 267.0 456.4 262.4 C 456.8 261.0 456.0 260.6 455.2 261.2" fill="none" stroke="#1c2948" stroke-width="1.4" stroke-linecap="round" stroke-linejoin="round"/>
<path d="M 440.0 291.2 C 446.5 293.2 455.0 287.2 453.8 282.5 C 453.2 280.5 450.5 280.5 447.5 283.0" fill="none" stroke="#1c2948" stroke-width="3.8" stroke-linecap="round" stroke-linejoin="round"/>
<path d="M 453.8 282.5 C 456.5 283.8 460.5 281.0 464.0 276.8" fill="none" stroke="#1c2948" stroke-width="1.4" stroke-linecap="round" stroke-linejoin="round"/>
<path d="M 465.0 275.8 C 467.5 274.0 470.0 276.0 469.8 279.0 C 469.4 283.0 466.5 288.0 468.5 291.2" fill="none" stroke="#1c2948" stroke-width="4.6" stroke-linecap="round" stroke-linejoin="round"/>
<path d="M 468.5 291.2 C 472.0 291.2 477.5 286.5 482.5 281.5" fill="none" stroke="#1c2948" stroke-width="1.4" stroke-linecap="round" stroke-linejoin="round"/>
<path d="M 482.5 281.5 C 486.0 278.2 491.0 276.0 492.5 277.5 C 493.5 279.0 490.0 283.0 485.5 285.0" fill="none" stroke="#1c2948" stroke-width="1.4" stroke-linecap="round" stroke-linejoin="round"/>
<path d="M 491.2 277.2 C 486.5 278.2 482.2 285.0 483.5 290.2 C 484.5 293.2 489.2 292.4 493.5 288.8" fill="none" stroke="#1c2948" stroke-width="4.6" stroke-linecap="round" stroke-linejoin="round"/>
<path d="M 493.5 288.8 C 496.5 286.5 499.0 284.0 501.5 282.0" fill="none" stroke="#1c2948" stroke-width="1.4" stroke-linecap="round" stroke-linejoin="round"/>
<path d="M 514.2 279.4 C 508.2 277.8 501.6 285.0 501.3 290.4 C 501.3 293.6 505.0 293.2 508.8 289.6" fill="none" stroke="#1c2948" stroke-width="4.6" stroke-linecap="round" stroke-linejoin="round"/>
<path d="M 508.8 289.6 C 512.0 286.0 515.0 282.0 517.0 279.0" fill="none" stroke="#1c2948" stroke-width="1.4" stroke-linecap="round" stroke-linejoin="round"/>
<path d="M 518.2 279.2 C 516.2 284.0 514.2 288.8 515.0 291.4 C 515.6 292.8 518.0 292.0 520.0 290.6" fill="none" stroke="#1c2948" stroke-width="4.6" stroke-linecap="round" stroke-linejoin="round"/>
<path d="M 520.0 290.6 C 523.5 288.2 526.5 285.5 529.5 282.5" fill="none" stroke="#1c2948" stroke-width="1.4" stroke-linecap="round" stroke-linejoin="round"/>
<path d="M 550.5 261.5 C 546.8 263.2 538.8 277.5 531.2 292.2" fill="none" stroke="#1c2948" stroke-width="4.6" stroke-linecap="round" stroke-linejoin="round"/>
<path d="M 535.8 285.5 C 542.0 278.0 550.0 269.0 551.8 264.5 C 552.2 262.5 551.5 261.2 550.5 261.5" fill="none" stroke="#1c2948" stroke-width="1.4" stroke-linecap="round" stroke-linejoin="round"/>
<path d="M 538.5 286.5 C 542.5 282.2 548.0 279.0 550.0 280.6 C 551.0 282.2 545.0 285.2 540.0 286.6" fill="none" stroke="#1c2948" stroke-width="3.8" stroke-linecap="round" stroke-linejoin="round"/>
<path d="M 540.0 286.6 C 544.0 288.0 545.0 291.8 549.5 292.0" fill="none" stroke="#1c2948" stroke-width="3.8" stroke-linecap="round" stroke-linejoin="round"/>
<path d="M 549.5 292.0 C 554.0 290.8 558.0 286.0 562.2 281.8" fill="none" stroke="#1c2948" stroke-width="1.4" stroke-linecap="round" stroke-linejoin="round"/>
<path d="M 575.2 279.4 C 569.0 277.8 558.2 285.0 557.0 290.4 C 556.6 294.2 561.0 293.8 565.8 290.0" fill="none" stroke="#1c2948" stroke-width="4.6" stroke-linecap="round" stroke-linejoin="round"/>
<path d="M 565.8 290.0 C 571.2 285.0 578.5 272.0 584.8 262.4" fill="none" stroke="#1c2948" stroke-width="1.4" stroke-linecap="round" stroke-linejoin="round"/>
<path d="M 585.2 261.6 C 582.2 265.2 574.2 282.0 572.2 291.8 C 571.8 294.5 573.4 296.0 575.0 295.6" fill="none" stroke="#1c2948" stroke-width="4.6" stroke-linecap="round" stroke-linejoin="round"/>
<path d="M 592.2 279.6 C 587.2 280.2 583.0 287.0 584.6 291.0 C 586.0 294.0 592.0 292.0 595.0 287.0" fill="none" stroke="#1c2948" stroke-width="4.6" stroke-linecap="round" stroke-linejoin="round"/>
<path d="M 595.0 287.0 C 597.0 283.2 596.2 279.2 592.2 279.6" fill="none" stroke="#1c2948" stroke-width="1.8" stroke-linecap="round" stroke-linejoin="round"/>
<path d="M 595.5 281.0 C 598.0 282.0 600.5 281.5 603.5 280.0" fill="none" stroke="#1c2948" stroke-width="1.4" stroke-linecap="round" stroke-linejoin="round"/>
<path d="M 610.2 278.6 C 607.2 283.0 604.0 289.0 606.0 291.4 C 608.0 293.0 613.2 289.0 617.2 283.8" fill="none" stroke="#1c2948" stroke-width="4.6" stroke-linecap="round" stroke-linejoin="round"/>
<path d="M 619.5 280.8 C 617.2 285.0 615.0 290.0 617.2 291.5 C 620.2 292.5 625.0 287.0 627.0 281.2" fill="none" stroke="#1c2948" stroke-width="4.6" stroke-linecap="round" stroke-linejoin="round"/>
<path d="M 627.0 281.2 C 627.6 279.0 626.5 277.0 625.0 276.6" fill="none" stroke="#1c2948" stroke-width="1.8" stroke-linecap="round" stroke-linejoin="round"/>
<path d="M 639.2 278.6 C 637.0 283.2 633.2 290.0 631.2 294.0" fill="none" stroke="#1c2948" stroke-width="4.6" stroke-linecap="round" stroke-linejoin="round"/>
<path d="M 634.2 287.0 C 638.2 282.0 644.0 278.8 647.0 280.0" fill="none" stroke="#1c2948" stroke-width="1.4" stroke-linecap="round" stroke-linejoin="round"/>
<path d="M 647.0 280.0 C 649.6 281.6 646.0 287.0 645.0 290.6 C 644.5 293.0 647.0 293.4 650.0 291.6" fill="none" stroke="#1c2948" stroke-width="4.6" stroke-linecap="round" stroke-linejoin="round"/>
<path d="M 650.0 291.6 C 653.0 289.6 655.0 287.0 657.2 284.0" fill="none" stroke="#1c2948" stroke-width="1.4" stroke-linecap="round" stroke-linejoin="round"/>
</g>
<use href="#bdword" transform="translate(477.6,0.3)"/>
</svg>
</body>
</html>
